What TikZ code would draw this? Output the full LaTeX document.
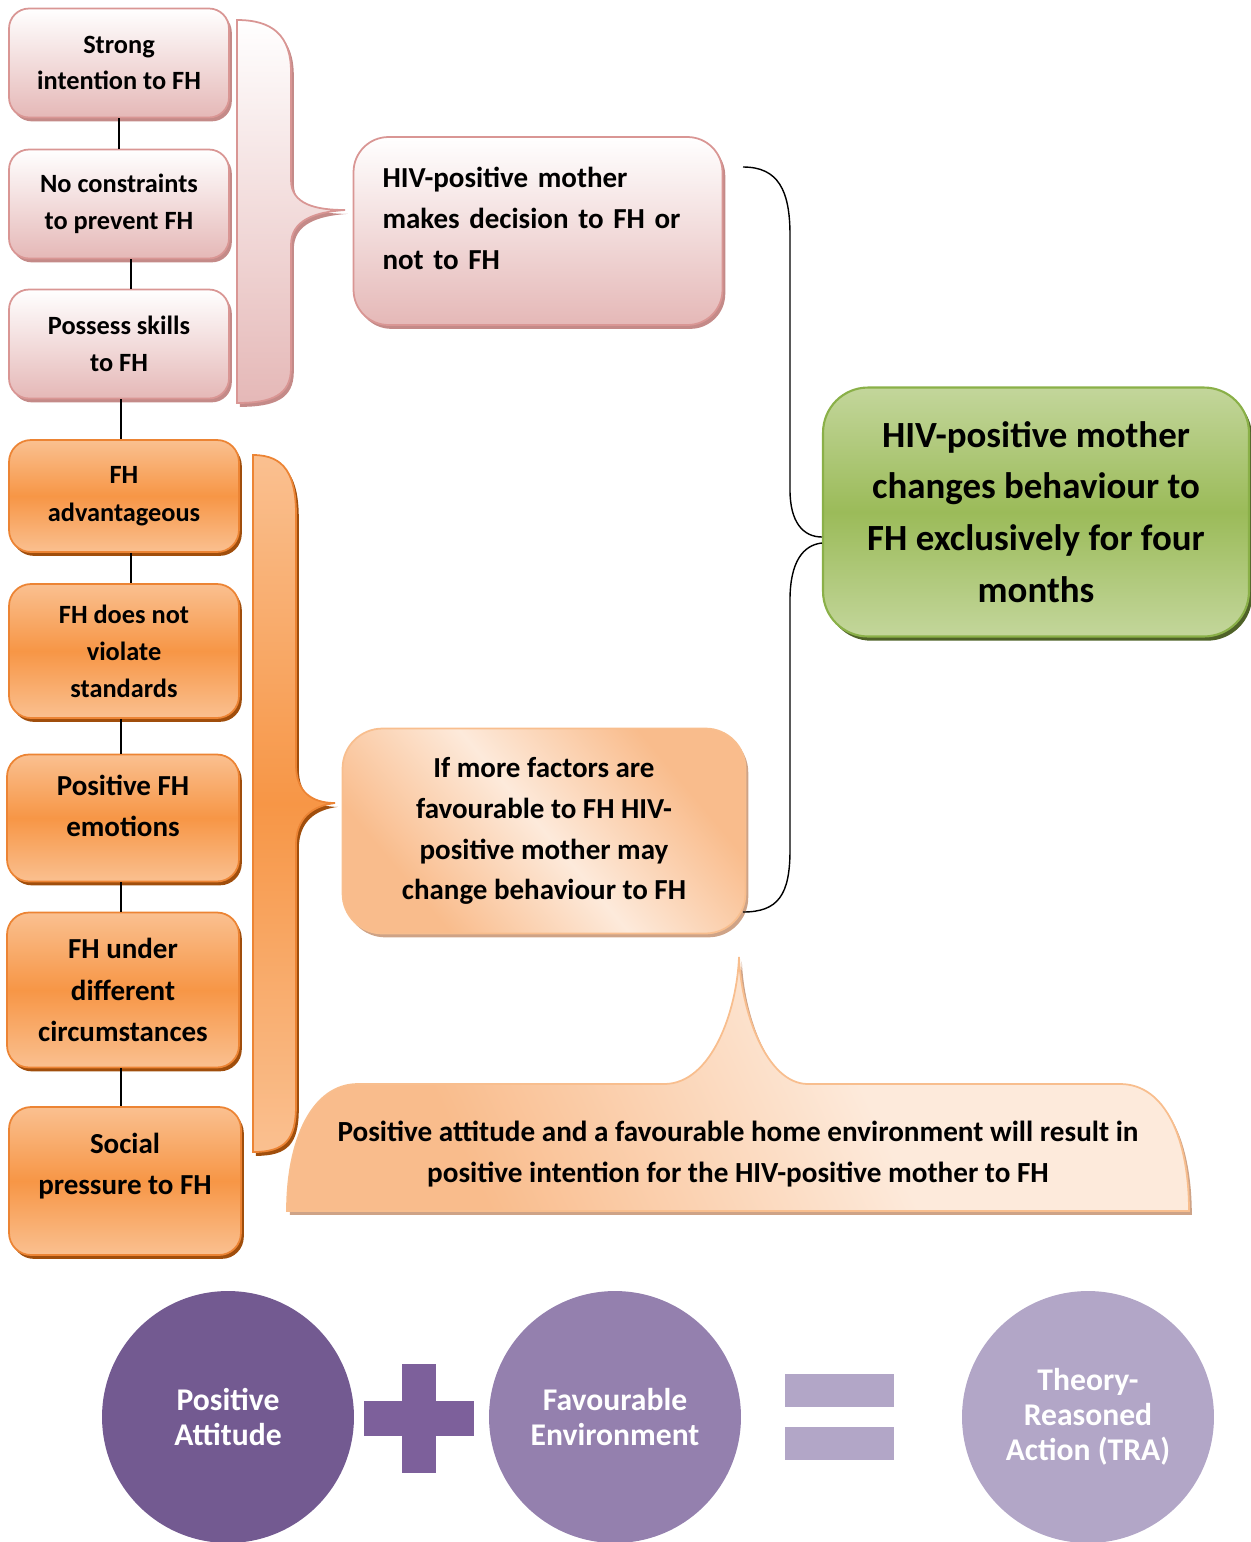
\documentclass[tikz,border=0pt]{standalone}
\usepackage{fontspec}
\setmainfont{Carlito}
\usepackage{xcolor}
\usepackage{tikz}
\usetikzlibrary{positioning, shadows}

\definecolor{pinkline}{RGB}{217,150,148}
\definecolor{pinkfill}{RGB}{229,184,183}
\definecolor{pinkshadow}{RGB}{196,138,136}
\definecolor{orgfill}{RGB}{247,150,70}
\definecolor{orglight}{RGB}{250,192,144}
\definecolor{orgline}{RGB}{236,132,52}
\definecolor{orgshadow}{RGB}{160,78,12}
\definecolor{peach}{RGB}{249,188,140}
\definecolor{peachlt}{RGB}{253,234,219}
\definecolor{peachline}{RGB}{248,190,142}
\definecolor{peachshadow}{RGB}{206,163,135}
\definecolor{grnfill}{RGB}{155,187,89}
\definecolor{grnlight}{RGB}{195,214,155}
\definecolor{grnline}{RGB}{138,176,72}
\definecolor{grnshadow}{RGB}{79,98,40}
\definecolor{purpA}{RGB}{115,90,145}
\definecolor{purpPlus}{RGB}{125,96,155}
\definecolor{purpB}{RGB}{148,128,174}
\definecolor{purpC}{RGB}{178,166,199}

\pgfdeclarehorizontalshading{peachdiag}{100bp}{color(0bp)=(peach); color(28bp)=(peach); color(50bp)=(peachlt); color(72bp)=(peach); color(100bp)=(peach)}
\pgfdeclarehorizontalshading{calloutshade}{100bp}{color(0bp)=(peach); color(30bp)=(peach); color(58bp)=(peachlt); color(100bp)=(peachlt)}

\begin{document}
\begin{tikzpicture}[
    x=0.02cm, y=-0.02cm,
    pinkbox/.style={rectangle, rounded corners=0.4cm, minimum width=4.4cm, minimum height=2.18cm, align=center, draw=pinkline, line width=1pt, top color=white, bottom color=pinkfill, general shadow={fill=pinkshadow, opacity=1, shadow xshift=1.6pt, shadow yshift=-2.2pt}, font=\fontsize{15}{21}\selectfont\bfseries},
    orgbox/.style={rectangle, rounded corners=0.44cm, minimum width=4.6cm, align=center, draw=orgline, line width=1pt, top color=orglight, bottom color=orglight, middle color=orgfill, general shadow={fill=orgshadow, opacity=1, shadow xshift=1.6pt, shadow yshift=-2.2pt}, font=\fontsize{16.5}{23.5}\selectfont\bfseries},
    greenbox/.style={rectangle, rounded corners=0.9cm, minimum width=8.52cm, minimum height=4.98cm, align=center, draw=grnline, line width=1.2pt, top color=grnlight, bottom color=grnlight, middle color=grnfill, general shadow={fill=grnshadow, opacity=1, shadow xshift=1.8pt, shadow yshift=-2.4pt}, font=\fontsize{21}{29.5}\selectfont\bfseries},
    ball/.style={circle, minimum size=5.04cm, inner sep=0pt, align=center, text=white, font=\fontsize{18}{20}\selectfont\bfseries},
    conn/.style={draw=black, line width=1pt},
    brace/.style={draw=black, line width=0.8pt}
]
\useasboundingbox (0,0) rectangle (1251,1542);

% Braces behind the boxes
\path[draw=pinkline, line width=1pt, top color=white, bottom color=pinkfill, general shadow={fill=pinkshadow, opacity=1, shadow xshift=1.6pt, shadow yshift=-2.2pt}]
  (237,20) .. controls (272,20) and (291,35) .. (291,72) -- (291,180)
  .. controls (291,204) and (315,210) .. (345,210)
  .. controls (315,212) and (291,220) .. (291,245) -- (291,368)
  .. controls (291,395) and (272,403) .. (237,403) -- cycle;
\path[draw=orgline, line width=1pt, top color=orglight, bottom color=orglight, middle color=orgfill, general shadow={fill=orgshadow, opacity=1, shadow xshift=1.6pt, shadow yshift=-2.2pt}]
  (253,455) .. controls (285,455) and (296,475) .. (296,515) -- (296,765)
  .. controls (296,792) and (312,803) .. (335,803)
  .. controls (312,806) and (296,818) .. (296,845) -- (296,1105)
  .. controls (296,1140) and (285,1152) .. (253,1152) -- cycle;

% Intention column
\node[pinkbox] (intent) at (119,63) {Strong\\intention to FH};
\node[pinkbox] (noconstr) at (119,204) {No constraints\\to prevent FH};
\node[pinkbox] (skills) at (119,344) {Possess skills\\to FH};

% Attitude column
\node[orgbox, minimum height=2.24cm, font=\fontsize{15}{21.5}\selectfont\bfseries] (advant) at (124,496) {FH\\advantageous};
\node[orgbox, minimum height=2.68cm, font=\fontsize{15}{21}\selectfont\bfseries] (standards) at (124,651) {FH does not\\violate\\standards};
\node[orgbox, minimum width=4.64cm, minimum height=2.54cm] (emotions) at (123,818) {Positive FH\\emotions\\[-10pt]\mbox{}};
\node[orgbox, minimum width=4.64cm, minimum height=3.1cm] (circum) at (123,990) {FH under\\different\\circumstances};
\node[orgbox, minimum width=4.64cm, minimum height=2.96cm] (social) at (125,1181) {Social\\pressure to FH\\[-4pt]\mbox{}};

% Middle statements
\node[pinkbox, rounded corners=0.7cm, minimum width=7.38cm, minimum height=3.76cm, align=left, text width=6.22cm, font=\fontsize{16.5}{23.2}\selectfont\bfseries] (decide) at (538,231) {HIV-positive mother\\makes decision to FH or\\not to FH\\[-9pt]\mbox{}};
\node[rectangle, rounded corners=0.8cm, minimum width=8.06cm, minimum height=4.1cm, align=center, draw=peachline, line width=1pt, shading=peachdiag, shading angle=40, general shadow={fill=peachshadow, opacity=1, shadow xshift=1.6pt, shadow yshift=-2.2pt}, font=\fontsize{16.5}{23.2}\selectfont\bfseries] (factors) at (544,831) {If more factors are\\favourable to FH HIV-\\positive mother may\\change behaviour to FH};

% Outcome
\node[greenbox] (change) at (1036,512) {HIV-positive mother\\changes behaviour to\\FH exclusively for four\\months};

% Callout
\path[draw=peachline, line width=1pt, shading=calloutshade, shading angle=25, general shadow={fill=peachshadow, opacity=1, shadow xshift=1.6pt, shadow yshift=-2.2pt}]
  (287,1211) .. controls (287,1140) and (312,1084) .. (358,1084) -- (664,1084)
  .. controls (712,1084) and (737,1010) .. (739,957)
  .. controls (741,1010) and (766,1084) .. (808,1084) -- (1120,1084)
  .. controls (1166,1084) and (1189,1140) .. (1189,1211) -- cycle;
\node[font=\fontsize{16.6}{23.2}\selectfont\bfseries, align=center] (result) at (738,1154) {Positive attitude and a favourable home environment will result in\\positive intention for the HIV-positive mother to FH};

% Connectors
\draw[conn] (intent) -- (noconstr);
\draw[conn] ([xshift=0.24cm]noconstr.south) -- ([xshift=0.24cm]noconstr.south |- skills.north);
\draw[conn] ([xshift=0.04cm]skills.south) -- ([xshift=0.04cm]skills.south |- advant.north);
\draw[conn] ([xshift=0.14cm]advant.south) -- ([xshift=0.14cm]advant.south |- standards.north);
\draw[conn] ([xshift=-0.06cm]standards.south) -- ([xshift=-0.06cm]standards.south |- emotions.north);
\draw[conn] ([xshift=-0.04cm]emotions.south) -- ([xshift=-0.04cm]emotions.south |- circum.north);
\draw[conn] ([xshift=-0.04cm]circum.south) -- ([xshift=-0.04cm]circum.south |- social.north);

% Brace to the outcome
\coordinate (bup) at (743,167);
\coordinate (blow) at (743,912);
\coordinate (btip) at ([yshift=-0.5cm]change.west);
\draw[brace] (bup) .. controls (778,167) and (790,190) .. (790,235) -- (790,490)
  .. controls (790,522) and (803,537) .. (btip);
\draw[brace] ([yshift=-0.12cm]btip) .. controls (803,545) and (790,562) .. (790,600) -- (790,850)
  .. controls (790,895) and (778,912) .. (blow);

% Equation
\node[ball, fill=purpA] (attitude) at (228,1417) {Positive\\Attitude};
\node[ball, fill=purpB] (environ) at (615,1417) {Favourable\\Environment};
\node[ball, fill=purpC] (tra) at (1088,1417) {Theory-\\Reasoned\\Action (TRA)};
\fill[purpPlus] (402,1364) rectangle (436,1473);
\fill[purpPlus] (364,1401) rectangle (474,1436);
\fill[purpC] (785,1374) rectangle (894,1407);
\fill[purpC] (785,1427) rectangle (894,1460);

\end{tikzpicture}
\end{document}
